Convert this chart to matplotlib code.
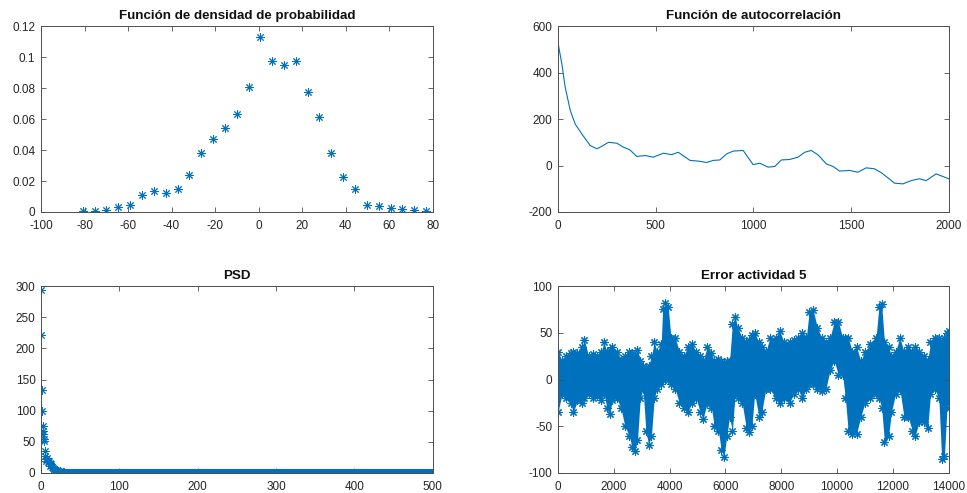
import numpy as np
import matplotlib.pyplot as plt
from matplotlib.ticker import FuncFormatter

plt.rcParams['font.family'] = ['Liberation Sans', 'DejaVu Sans']

BLUE = '#0072BD'
AXC = '#4d4d4d'
STAR = (8, 2, 0)  # asterisco de 8 brazos, como el '*' de MATLAB

# densidad de probabilidad (centros de clase y frecuencia relativa)
pdf_x = [-80.7, -75.3, -69.9, -64.4, -59.0, -53.5, -48.1, -42.7, -37.2, -31.8,
         -26.3, -20.9, -15.5, -10.0, -4.6, 0.8, 6.3, 11.7, 17.1, 22.6,
         28.0, 33.5, 38.9, 44.3, 49.8, 55.2, 60.7, 66.1, 71.5, 77.0]
pdf_y = [0.0004, 0.0004, 0.0015, 0.0030, 0.0047, 0.0107, 0.0138, 0.0125, 0.0146, 0.0239,
         0.0383, 0.0469, 0.0544, 0.0634, 0.0804, 0.1129, 0.0976, 0.0946, 0.0972, 0.0772,
         0.0615, 0.0383, 0.0224, 0.0148, 0.0047, 0.0039, 0.0024, 0.0017, 0.0013, 0.0004]

# autocorrelacion
acf_lag = [0, 20, 37, 63, 88, 122, 165, 199, 216, 259, 301, 335, 369, 403, 446, 488,
           540, 582, 616, 676, 718, 761, 795, 829, 863, 897, 948, 999, 1033, 1076,
           1110, 1144, 1186, 1229, 1263, 1297, 1331, 1374, 1408, 1442, 1493, 1535,
           1578, 1620, 1654, 1689, 1723, 1766, 1808, 1851, 1885, 1936, 1970, 2000]
acf_val = [530, 437, 337, 237, 179, 136, 86, 72, 79, 100, 96, 79, 67, 39, 43, 36,
           53, 47, 57, 22, 19, 13, 22, 24, 50, 62, 65, 4, 10, -7,
           -4, 24, 26, 36, 57, 65, 46, 7, -4, -24, -21, -29,
           -10, -14, -30, -53, -76, -79, -65, -57, -65, -36, -47, -57]

# PSD
psd_head_f = [0, 0.5, 1, 1.5, 2, 2.5, 3, 3.5, 4, 4.5, 5, 6, 7, 8, 9, 10, 11, 12, 13, 14,
              15, 16, 17, 18, 20, 22, 24, 26, 28, 30]
psd_head_p = [293, 222, 133, 100, 76, 68, 62, 55, 52, 35, 28, 22, 20, 24, 18, 19, 16, 12, 14, 10,
              8, 7, 6, 5, 4, 3, 2.5, 2, 1.5, 1.2]
psd_tail_f = np.arange(31, 501)
psd_tail_level = 0.6

# error actividad 5: envolvente superior e inferior de la nube de puntos
err_n = [0, 150, 300, 450, 550, 700, 850, 950, 1100, 1250, 1400, 1550, 1650, 1750, 1850,
         1950, 2100, 2250, 2400, 2550, 2650, 2750, 2850, 2950, 3050, 3150, 3250, 3350, 3450,
         3550, 3700, 3750, 3850, 3950, 4050, 4200, 4350, 4500, 4650, 4800, 4950, 5100, 5200,
         5350, 5500, 5600, 5750, 5850, 5950, 6050, 6150, 6250, 6350, 6450, 6600, 6750, 6850,
         6950, 7050, 7200, 7300, 7450, 7600, 7800, 7950, 8100, 8300, 8450, 8600, 8750, 8900,
         9000, 9150, 9300, 9450, 9600, 9750, 9900, 10050, 10200, 10300, 10400, 10550, 10700,
         10850, 11000, 11200, 11400, 11500, 11600, 11700, 11850, 11950, 12100, 12250, 12400,
         12550, 12700, 12800, 12950, 13100, 13250, 13350, 13500, 13650, 13750, 13850, 13950,
         14000]
err_hi = [30, 20, 25, 28, 30, 28, 35, 42, 25, 27, 25, 30, 40, 30, 32,
          35, 30, 22, 25, 30, 28, 25, 32, 20, 15, 12, 15, 25, 40,
          30, 38, 75, 82, 78, 45, 45, 30, 25, 35, 38, 30, 25, 20,
          35, 28, 20, 22, 20, 18, 20, 20, 60, 67, 55, 45, 40, 42,
          48, 50, 40, 35, 30, 45, 45, 52, 40, 40, 42, 45, 50, 45,
          72, 74, 55, 45, 40, 45, 62, 62, 45, 45, 45, 30, 35,
          20, 30, 38, 45, 78, 81, 40, 35, 25, 30, 45, 30,
          35, 30, 35, 30, 25, 20, 40, 45, 45, 40, 45, 50,
          52]
err_lo = [-35, -15, -20, -25, -35, -22, -25, -20, -15, -20, -18, -22, -15, -30, -37,
          -22, -20, -30, -50, -60, -72, -77, -65, -20, -10, -55, -70, -60, -20,
          -10, -5, 0, 2, 0, -5, -10, -25, -30, -35, -25, -20, -35, -42,
          -25, -30, -50, -55, -75, -83, -60, -40, -55, -15, -20, -25, -52, -56,
          -50, -15, -40, -35, -10, -10, -20, -25, -20, -25, -15, -10, -20, -10,
          -5, -5, -10, -12, -10, 10, 20, 5, 5, -20, -55, -58, -58,
          -40, -25, -20, -15, -20, -30, -67, -60, -35, -15, -10, -40,
          -40, -55, -60, -45, -45, -52, -15, -10, -20, -85, -82, -25,
          -30]


def style(ax, xlim, xticks, ylim, yticks, title):
    ax.set_xlim(xlim)
    ax.set_ylim(ylim)
    ax.set_xticks(xticks)
    ax.set_yticks(yticks)
    fmt = FuncFormatter(lambda v, p: '%g' % v)
    ax.xaxis.set_major_formatter(fmt)
    ax.yaxis.set_major_formatter(fmt)
    ax.tick_params(direction='in', top=True, right=True, length=3.5, width=0.6,
                   labelsize=8.5, colors=AXC, labelcolor='#262626')
    ax.tick_params(axis='x', pad=6)
    ax.tick_params(axis='y', pad=4)
    for s in ax.spines.values():
        s.set_color(AXC)
        s.set_linewidth(0.7)
    ax.set_title(title, fontsize=9.6, fontweight='bold', color='#111111', pad=5)


fig = plt.figure(figsize=(9.67, 4.93), dpi=100)
ax1 = fig.add_axes([0.0424, 0.570, 0.405, 0.377])
ax2 = fig.add_axes([0.577, 0.570, 0.404, 0.377])
ax3 = fig.add_axes([0.0424, 0.0406, 0.405, 0.379])
ax4 = fig.add_axes([0.577, 0.0406, 0.404, 0.379])

ax1.plot(pdf_x, pdf_y, linestyle='none', marker=STAR, color=BLUE,
         markersize=6, markeredgewidth=0.7)
style(ax1, (-100, 80), range(-100, 81, 20), (0, 0.12), np.arange(0, 0.121, 0.02),
      'Función de densidad de probabilidad')

ax2.plot(acf_lag, acf_val, '-', color=BLUE, linewidth=0.8)
style(ax2, (0, 2000), range(0, 2001, 500), (-200, 600), range(-200, 601, 200),
      'Función de autocorrelación')

ax3.plot(psd_head_f, psd_head_p, linestyle='none', marker=STAR, color=BLUE,
         markersize=6, markeredgewidth=0.7)
ax3.plot(psd_tail_f, np.full(len(psd_tail_f), psd_tail_level), linestyle='none',
         marker=STAR, color=BLUE, markersize=6, markeredgewidth=0.8)
style(ax3, (0, 500), range(0, 501, 100), (0, 300), range(0, 301, 50), 'PSD')

ax4.fill_between(err_n, err_lo, err_hi, color=BLUE, linewidth=0)
ax4.plot(err_n, err_hi, linestyle='none', marker=STAR, color=BLUE,
         markersize=6, markeredgewidth=0.8)
ax4.plot(err_n, err_lo, linestyle='none', marker=STAR, color=BLUE,
         markersize=6, markeredgewidth=0.8)
style(ax4, (0, 14000), range(0, 14001, 2000), (-100, 100), range(-100, 101, 50),
      'Error actividad 5')

fig.savefig('out.png', dpi=100)
